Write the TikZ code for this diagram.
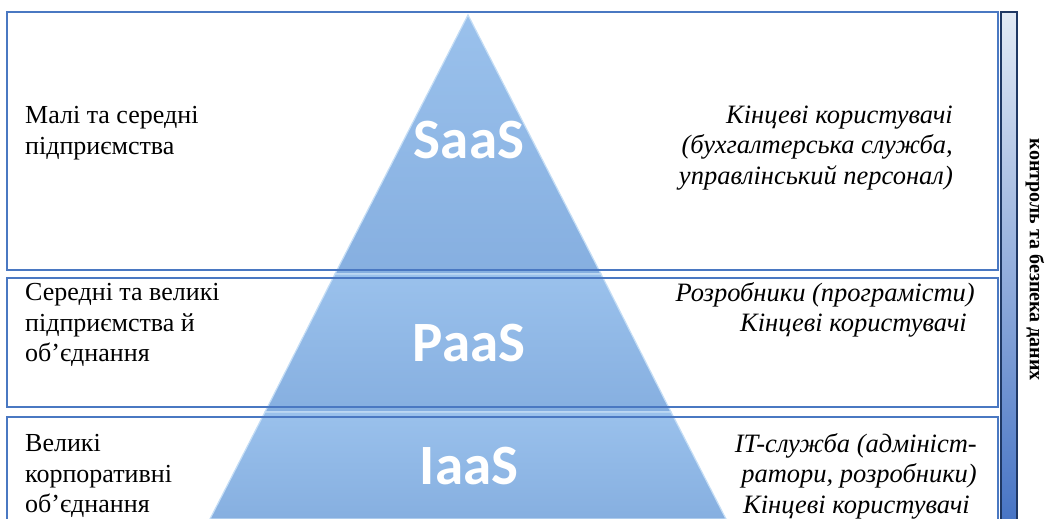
\documentclass[tikz,border=0pt]{standalone}
\usepackage{fontspec}
\setmainfont{Liberation Serif}
\newfontfamily\labelfont{Carlito}
\usetikzlibrary{calc}
\definecolor{bandline}{HTML}{4A78C2}
\definecolor{pyrtop}{HTML}{9AC1EC}
\definecolor{pyrbot}{HTML}{86AFE0}
\definecolor{pyredge}{HTML}{C4DDF5}
\definecolor{barline}{HTML}{1F3864}
\definecolor{bartop}{HTML}{E2EAF5}
\definecolor{barbot}{HTML}{4472C4}
\tikzset{
  band/.style={draw=bandline, line width=1.6pt},
  seg/.style={top color=pyrtop, bottom color=pyrbot, draw=pyredge, line width=1.2pt},
  lvl/.style={text=white, font=\labelfont\bfseries\fontsize{57}{60}\selectfont, inner sep=0pt},
  lefttext/.style={anchor=west, align=left, inner sep=0pt, font=\fontsize{26}{30.5}\selectfont},
  righttext/.style={anchor=east, align=right, inner sep=0pt, font=\itshape\fontsize{26.5}{30.5}\selectfont},
}
\begin{document}
\begin{tikzpicture}[x=1pt,y=-1pt]
\useasboundingbox (0,0) rectangle (1045,519);
\fill[white] (0,0) rectangle (1045,519);
% pyramid segments
\path[seg] (468,15) -- (601,274) -- (335,274) -- cycle;
\path[seg] (335,274) -- (601,274) -- (671,412) -- (265,412) -- cycle;
\path[seg] (265,412) -- (671,412) -- (726,519) -- (210,519) -- cycle;
% bands
\draw[band] (7,12) rectangle (998,270);
\draw[band] (7,278) rectangle (998,407);
\draw[band] (7,417) rectangle (998,530);
% side bar
\draw[draw=barline, line width=1.4pt, top color=bartop, bottom color=barbot] (1001,12) rectangle (1017,530);
\node[rotate=-90, inner sep=0pt, font=\bfseries\fontsize{20}{24}\selectfont] (ctrl) at (1035,260) {контроль та безпека даних};
% level labels
\node[lvl] (saas) at (469,140) {SaaS};
\node[lvl] (paas) at (469,343) {PaaS};
\node[lvl] (iaas) at (469,466) {IaaS};
% left texts
\node[lefttext] (l1) at (25,133) {Малі та середні\\підприємства};
\node[lefttext] (l2) at (25,325) {Середні та великі\\підприємства й\\об’єднання};
\node[lefttext] (l3) at (25,476) {Великі\\корпоративні\\об’єднання};
% right texts
\node[righttext] (r1) at (953,148) {Кінцеві користувачі\\(бухгалтерська служба,\\управлінський персонал)};
\node[righttext] (r2) at (975,310) {Розробники (програмісти)\\Кінцеві користувачі\hspace*{8pt}};
\node[righttext] (r3) at (977,476) {IT-служба (адмініст-\\ратори, розробники)\hspace*{2pt}\\Кінцеві користувачі\hspace*{7pt}};
\end{tikzpicture}
\end{document}
